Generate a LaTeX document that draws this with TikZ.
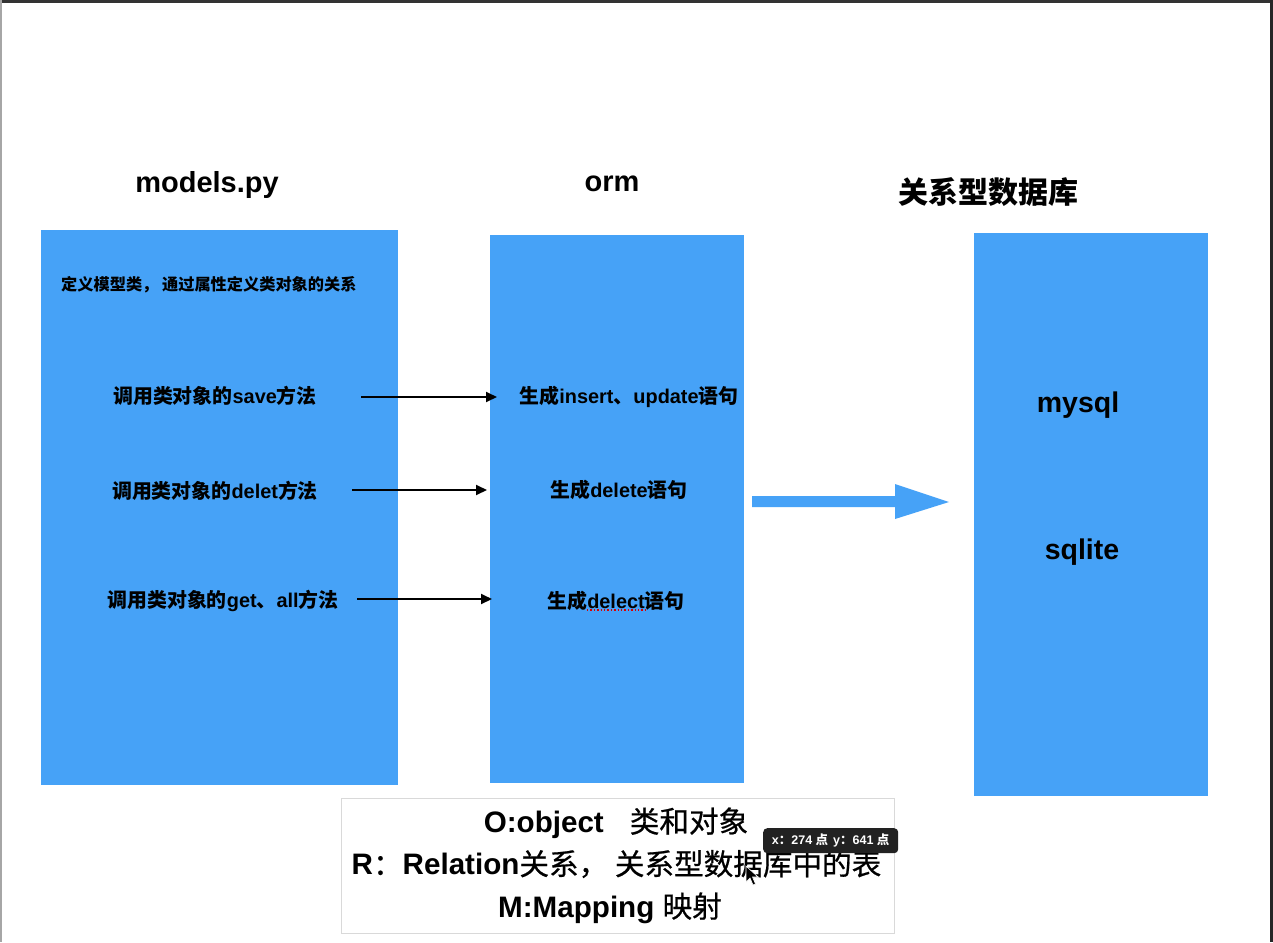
\documentclass[tikz,border=0pt]{standalone}
\usepackage{fontspec}
\setmainfont{Liberation Sans}
\newfontfamily\cjk{Noto Sans CJK SC}
\newfontfamily\cjkmed{Noto Sans CJK SC}[FakeBold=0.6]
\usetikzlibrary{arrows.meta}
\definecolor{boxblue}{RGB}{70,162,247}
\definecolor{tipbg}{RGB}{34,34,34}
\tikzset{
  panel/.style={fill=boxblue, draw=none, anchor=north west, inner sep=0pt},
  title/.style={font=\bfseries\fontsize{29}{34}\selectfont, inner sep=0pt},
  item/.style={font=\bfseries\fontsize{19.9}{23}\selectfont, inner sep=0pt},
  dbname/.style={font=\bfseries\fontsize{28.5}{34}\selectfont, inner sep=0pt},
  call/.style={-{Triangle[length=11pt,width=10pt]}, line width=1.9pt, black},
  legend/.style={draw=black!15, line width=1pt, fill=white, anchor=north west, inner sep=0pt},
  legline/.style={font=\bfseries\fontsize{29.6}{34}\selectfont, inner sep=0pt},
}
\begin{document}
\begin{tikzpicture}[x=1pt,y=-1pt]
\useasboundingbox (0,0) rectangle (1273,942);
\fill[white] (0,0) rectangle (1273,942);
% window frame
\fill[black!80] (0,0) rectangle (1273,3);
\fill[black!35] (0,0) rectangle (1.5,942);
\fill[black!85] (1270,0) rectangle (1273,942);

% panels
\node[panel, minimum width=357pt, minimum height=555pt] (models) at (41,230) {};
\node[panel, minimum width=254pt, minimum height=548pt] (orm) at (490,235) {};
\node[panel, minimum width=234pt, minimum height=563pt] (db) at (974,233) {};

% titles
\node[title] (tmodels) at (207,185) {models.py};
\node[title] (torm) at (612,184) {orm};
\node[title, font=\bfseries\fontsize{30}{34}\selectfont] (tdb) at (988,192) {\cjk 关系型数据库};

% left panel texts
\node[item, font=\bfseries\fontsize{16.2}{19}\selectfont, anchor=west] (def) at (61,285) {\cjk 定义模型类， 通过属性定义类对象的关系};
\node[item] (save) at (215,396) {{\cjk 调用类对象的}save{\cjk 方法}};
\node[item] (delet) at (215,491) {{\cjk 调用类对象的}delet{\cjk 方法}};
\node[item] (getall) at (223,601) {{\cjk 调用类对象的}get{\cjk 、}all{\cjk 方法}};

% orm texts
\node[item] (ins) at (629,397) {{\cjk 生成}insert{\cjk 、}update{\cjk 语句}};
\node[item] (del) at (619,490) {{\cjk 生成}delete{\cjk 语句}};
\node[item] (sel) at (616,601) {{\cjk 生成}delect{\cjk 语句}};
\draw[red!85!black, dotted, line width=1.4pt] (587,610) -- (645,610);

% db texts
\node[dbname] (mysql) at (1078,405) {mysql};
\node[dbname] (sqlite) at (1082,552) {sqlite};

% call arrows
\coordinate (s1) at (361,397); \coordinate (e1) at (497,397);
\coordinate (s2) at (352,490); \coordinate (e2) at (487,490);
\coordinate (s3) at (357,599); \coordinate (e3) at (492,599);
\draw[call] (s1) -- (e1);
\draw[call] (s2) -- (e2);
\draw[call] (s3) -- (e3);

% big arrow orm -> db
\fill[boxblue] (752,496) -- (895,496) -- (895,484) -- (949,502) -- (895,519) -- (895,507) -- (752,507) -- cycle;

% legend box
\node[legend, minimum width=553pt, minimum height=135pt] (leg) at (341,798) {};
\node[legline] (lo) at (616,823) {O:object\hspace{26pt}{\cjkmed\mdseries 类和对象}};
\node[legline] (lr) at (616.5,864) {R{\cjkmed\mdseries ：}Relation{\cjkmed\mdseries 关系， 关系型数据库中的表}};
\node[legline] (lm) at (610,908) {M:Mapping {\cjkmed\mdseries 映射}};

% tooltip
\node[fill=tipbg, rounded corners=4pt, anchor=north west, minimum width=135pt, minimum height=25pt, inner sep=0pt,
      font=\bfseries\fontsize{12.5}{14}\selectfont, text=white] (tip) at (763,828) {x{\cjk ：}274 {\cjk 点}\hspace{5pt}y{\cjk ：}641 {\cjk 点}};

% mouse cursor
\filldraw[fill=black, draw=white, line width=0.6pt] (746,866) -- (746,882) -- (750,878) -- (753,885) -- (755.5,884) -- (752.5,877) -- (758,877) -- cycle;
\end{tikzpicture}
\end{document}
